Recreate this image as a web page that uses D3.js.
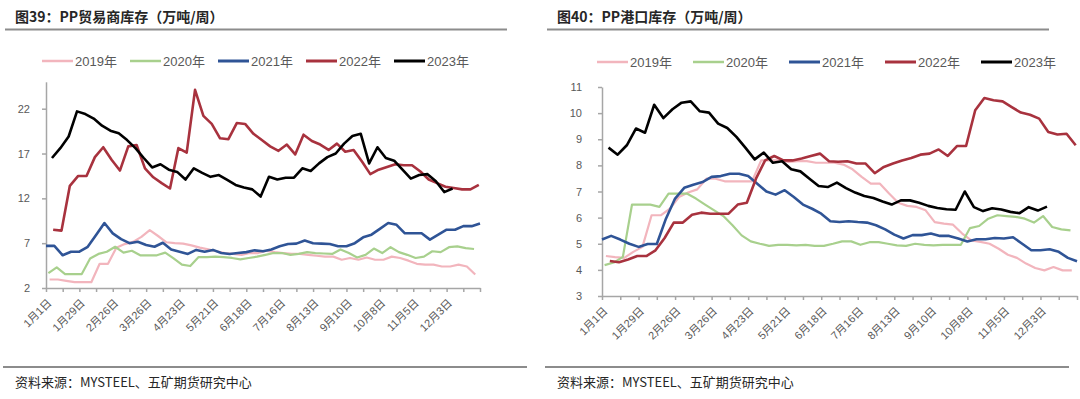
<!DOCTYPE html>
<html>
<head>
<meta charset="utf-8">
<script src="https://cdn.jsdelivr.net/npm/d3@7"></script>
<style>
  body { margin: 0; background: #fff; }
  svg { display: block; font-family: "Liberation Sans", "Noto Sans CJK SC", sans-serif; }
</style>
</head>
<body>
<svg id="chart" width="1080" height="399"></svg>
<script>
// series names and the day-of-year of each year's first weekly reading
const years = ["2019年", "2020年", "2021年", "2022年", "2023年"];
const firstDay = [3, 2, 0, 6, 5];
const yearColors = ["#f2b5bd", "#a8d08d", "#2f5496", "#a8323e", "#000000"];

// x tick labels, one every 4 weeks
const dateLabels = ["1月1日", "1月29日", "2月26日", "3月26日", "4月23日", "5月21日", "6月18日",
  "7月16日", "8月13日", "9月10日", "10月8日", "11月5日", "12月3日"];

// 图39 PP贸易商库存
const trade2019 = [2.95, 2.95, 2.8, 2.65, 2.65, 2.65, 4.7, 4.7, 6.5, 6.9, 7.15, 7.7, 8.45, 7.8, 7.1, 7.0,
  6.95, 6.75, 6.5, 6.3, 6.1, 5.9, 5.8, 5.7, 5.9, 5.9, 6.15, 6.0, 5.9, 5.8, 5.8, 5.7, 5.6, 5.5, 5.5, 5.15,
  5.35, 5.15, 5.4, 5.15, 5.15, 5.5, 5.35, 5.05, 4.7, 4.6, 4.6, 4.4, 4.4, 4.6, 4.4, 3.5];
const trade2020 = [3.65, 4.3, 3.55, 3.55, 3.55, 5.3, 5.8, 6.05, 6.6, 5.95, 6.15, 5.65, 5.65, 5.65, 5.95, 5.3,
  4.6, 4.45, 5.45, 5.45, 5.5, 5.45, 5.35, 5.2, 5.35, 5.5, 5.7, 5.9, 5.9, 5.7, 5.8, 6.0, 5.9, 5.85, 5.8, 6.3,
  5.9, 5.4, 5.7, 6.4, 5.9, 6.55, 6.0, 5.7, 5.35, 5.5, 6.1, 6.0, 6.55, 6.65, 6.45, 6.35];
const trade2021 = [6.7, 6.7, 5.65, 6.05, 6.05, 6.6, 7.9, 9.25, 8.1, 7.45, 7.0, 7.15, 6.8, 6.6, 7.05, 6.3,
  6.05, 5.8, 6.25, 6.05, 6.25, 5.9, 5.8, 5.9, 6.0, 6.2, 6.1, 6.3, 6.65, 6.9, 6.95, 7.3, 7.0, 6.95, 6.9,
  6.65, 6.65, 7.0, 7.65, 7.95, 8.6, 9.25, 9.05, 8.1, 8.1, 8.1, 7.4, 7.95, 8.5, 8.5, 8.9, 8.9, 9.2];
const trade2022 = [8.5, 8.4, 13.4, 14.5, 14.5, 16.6, 17.7, 16.3, 15.1, 17.8, 17.95, 15.35, 14.35, 13.7, 13.1,
  17.6, 17.1, 24.1, 21.2, 20.3, 18.7, 18.6, 20.4, 20.3, 19.2, 18.5, 17.8, 17.3, 18.0, 16.9, 19.1, 18.4, 18.0,
  17.4, 18.1, 17.2, 17.4, 16.1, 14.7, 15.2, 15.5, 15.8, 15.7, 15.7, 15.0, 14.1, 13.7, 13.3, 13.15, 13.0, 13.0, 13.5];
const trade2023 = [16.5, 17.6, 18.9, 21.7, 21.4, 20.9, 20.1, 19.55, 19.25, 18.5, 17.6, 16.5, 15.45, 15.8, 15.2,
  14.95, 14.1, 15.35, 14.85, 14.4, 14.6, 14.05, 13.5, 13.2, 13.0, 12.2, 14.4, 14.1, 14.3, 14.3, 15.35, 15.05,
  15.9, 16.6, 17.0, 18.1, 18.95, 19.2, 15.9, 17.7, 16.5, 16.2, 15.2, 14.2, 14.6, 14.7, 13.9, 12.7, 13.1];

// 图40 PP港口库存
const port2019 = [4.53, 4.49, 4.46, 4.69, 4.88, 6.09, 6.09, 6.34, 6.79, 6.96, 7.08, 7.49, 7.49, 7.39, 7.39,
  7.39, 7.39, 8.19, 8.19, 8.19, 8.13, 8.16, 8.16, 8.1, 8.1, 8.1, 8.03, 7.85, 7.56, 7.3, 7.3, 6.92, 6.57, 6.45,
  6.41, 6.28, 5.83, 5.77, 5.73, 5.39, 5.13, 5.07, 5.0, 4.81, 4.58, 4.46, 4.24, 4.07, 3.98, 4.11, 3.98, 3.98];
const port2020 = [4.18, 4.28, 4.5, 6.5, 6.5, 6.5, 6.41, 6.92, 6.92, 6.92, 6.73, 6.5, 6.28, 6.06, 5.71, 5.32,
  5.09, 5.0, 4.92, 4.96, 4.96, 4.94, 4.96, 4.92, 4.92, 5.0, 5.09, 5.09, 4.96, 5.06, 5.06, 5.0, 4.94, 4.92, 5.0,
  4.96, 4.94, 4.96, 4.96, 4.96, 5.6, 5.68, 5.96, 6.09, 6.06, 6.03, 5.96, 5.81, 6.06, 5.64, 5.55, 5.51];
const port2021 = [5.16, 5.3, 5.16, 5.0, 4.88, 4.99, 4.99, 5.96, 6.73, 7.14, 7.26, 7.36, 7.56, 7.59, 7.68, 7.68,
  7.59, 7.3, 7.0, 6.88, 7.05, 6.79, 6.5, 6.34, 6.15, 5.86, 5.83, 5.86, 5.83, 5.81, 5.71, 5.55, 5.35, 5.2, 5.33,
  5.33, 5.39, 5.3, 5.3, 5.2, 5.09, 5.17, 5.17, 5.22, 5.2, 5.25, 5.0, 4.75, 4.75, 4.79, 4.69, 4.46, 4.33];
const port2022 = [4.34, 4.29, 4.4, 4.53, 4.53, 4.75, 5.22, 5.81, 5.81, 6.11, 6.19, 6.15, 6.15, 6.15, 6.5, 6.57,
  7.49, 8.19, 8.36, 8.19, 8.19, 8.26, 8.36, 8.45, 8.16, 8.14, 8.16, 8.07, 8.07, 7.7, 7.94, 8.07, 8.19, 8.28,
  8.41, 8.45, 8.61, 8.36, 8.74, 8.74, 10.11, 10.58, 10.49, 10.45, 10.23, 10.02, 9.94, 9.79, 9.28, 9.18, 9.21, 8.77];
const port2023 = [8.68, 8.41, 8.77, 9.41, 9.25, 10.32, 9.81, 10.15, 10.4, 10.45, 10.07, 10.02, 9.6, 9.43, 9.09,
  8.67, 8.23, 8.49, 8.1, 8.16, 7.85, 7.77, 7.49, 7.21, 7.17, 7.34, 7.13, 6.96, 6.83, 6.75, 6.62, 6.5, 6.66,
  6.66, 6.57, 6.45, 6.37, 6.32, 6.3, 7.0, 6.4, 6.25, 6.36, 6.31, 6.22, 6.17, 6.4, 6.27, 6.42];

const tradeTicks = [2, 7, 12, 17, 22];
const portTicks = [3, 4, 5, 6, 7, 8, 9, 10, 11];

const svg = d3.select('#chart');

const panels = [
  {
    ox: 0, title: '图39：PP贸易商库存（万吨/周）',
    series: [trade2019, trade2020, trade2021, trade2022, trade2023],
    yDomain: [2, 25], yTicks: tradeTicks,
    left: 46, right: 480, bottom: 288, top: 81.8, labelGap: 12,
    legendX: 42, legendStep: 88, legendY: 61
  },
  {
    ox: 542, title: '图40：PP港口库存（万吨/周）',
    series: [port2019, port2020, port2021, port2022, port2023],
    yDomain: [3, 11], yTicks: portTicks,
    left: 602, right: 1077, bottom: 296, top: 87, labelGap: 16,
    legendX: 597, legendStep: 96, legendY: 62
  }
];

panels.forEach(p => drawPanel(p));

function drawPanel(p) {
  const g = svg.append('g');

  // title + rule
  g.append('text')
    .attr('x', p.ox + 15).attr('y', 22)
    .style('font-family', '"Noto Sans CJK SC", sans-serif')
    .style('font-size', '14px').style('font-weight', 'bold').style('fill', '#262626')
    .text(p.title);
  g.append('line')
    .attr('x1', p.ox + 5).attr('x2', p.ox + 507).attr('y1', 29.5).attr('y2', 29.5)
    .style('stroke', '#8c8c8c').style('stroke-width', 2);

  // source + rule
  g.append('line')
    .attr('x1', p.ox + 3).attr('x2', p.ox + 527).attr('y1', 367).attr('y2', 367)
    .style('stroke', '#8c8c8c').style('stroke-width', 2);
  g.append('text')
    .attr('x', p.ox + 15).attr('y', 387)
    .style('font-family', '"Noto Sans CJK SC", sans-serif')
    .style('font-size', '13px').style('fill', '#262626')
    .text('资料来源：MYSTEEL、五矿期货研究中心');

  const x = d3.scaleLinear().domain([0, 364]).range([p.left, p.right]);
  const y = d3.scaleLinear().domain(p.yDomain).range([p.bottom, p.top]);

  // y axis
  const yAxis = g.append('g')
    .attr('transform', `translate(${p.left},0)`)
    .call(d3.axisLeft(y).tickValues(p.yTicks).tickSize(4).tickSizeOuter(0).tickPadding(p.labelGap));
  yAxis.select('.domain').style('stroke', '#a6a6a6').style('stroke-width', 1.5);
  yAxis.selectAll('.tick line').style('stroke', '#a6a6a6').style('stroke-width', 1.5);
  yAxis.selectAll('.tick text').style('font-size', '11px').style('fill', '#595959')
    .style('font-family', '"Liberation Sans", sans-serif');

  // x axis: tick every two weeks, label every four weeks
  const xAxis = g.append('g')
    .attr('transform', `translate(0,${p.bottom})`)
    .call(d3.axisBottom(x).tickValues(d3.range(0, 365, 14)).tickSize(4).tickSizeOuter(0)
      .tickFormat(d => (d % 28 === 0 ? dateLabels[d / 28] || '' : '')));
  xAxis.select('.domain').style('stroke', '#a6a6a6').style('stroke-width', 1.5);
  xAxis.selectAll('.tick line').style('stroke', '#a6a6a6').style('stroke-width', 1.5);
  xAxis.selectAll('.tick text')
    .attr('y', 0).attr('dy', '0.35em')
    .attr('transform', 'translate(3,13) rotate(-45)')
    .style('text-anchor', 'end')
    .style('font-size', '11px').style('fill', '#595959')
    .style('font-family', '"Liberation Sans", "Noto Sans CJK SC", sans-serif');

  // lines
  const line = d3.line().x(d => x(d.day)).y(d => y(d.v));
  p.series.forEach((vals, i) => {
    const pts = vals.map((v, k) => ({ day: firstDay[i] + 7 * k, v }));
    g.append('path')
      .datum(pts)
      .attr('d', line)
      .style('fill', 'none')
      .style('stroke', yearColors[i])
      .style('stroke-width', i < 2 ? 2.2 : 2.6)
      .style('stroke-linejoin', 'round');
  });

  // legend
  const leg = g.append('g');
  years.forEach((name, i) => {
    const lx = p.legendX + i * p.legendStep;
    leg.append('line')
      .attr('x1', lx).attr('x2', lx + 31).attr('y1', p.legendY).attr('y2', p.legendY)
      .style('stroke', yearColors[i]).style('stroke-width', i < 2 ? 2.5 : 3);
    leg.append('text')
      .attr('x', lx + 33).attr('y', p.legendY).attr('dy', '0.35em')
      .style('font-size', '13px').style('fill', '#595959')
      .text(name);
  });
}
</script>
</body>
</html>
